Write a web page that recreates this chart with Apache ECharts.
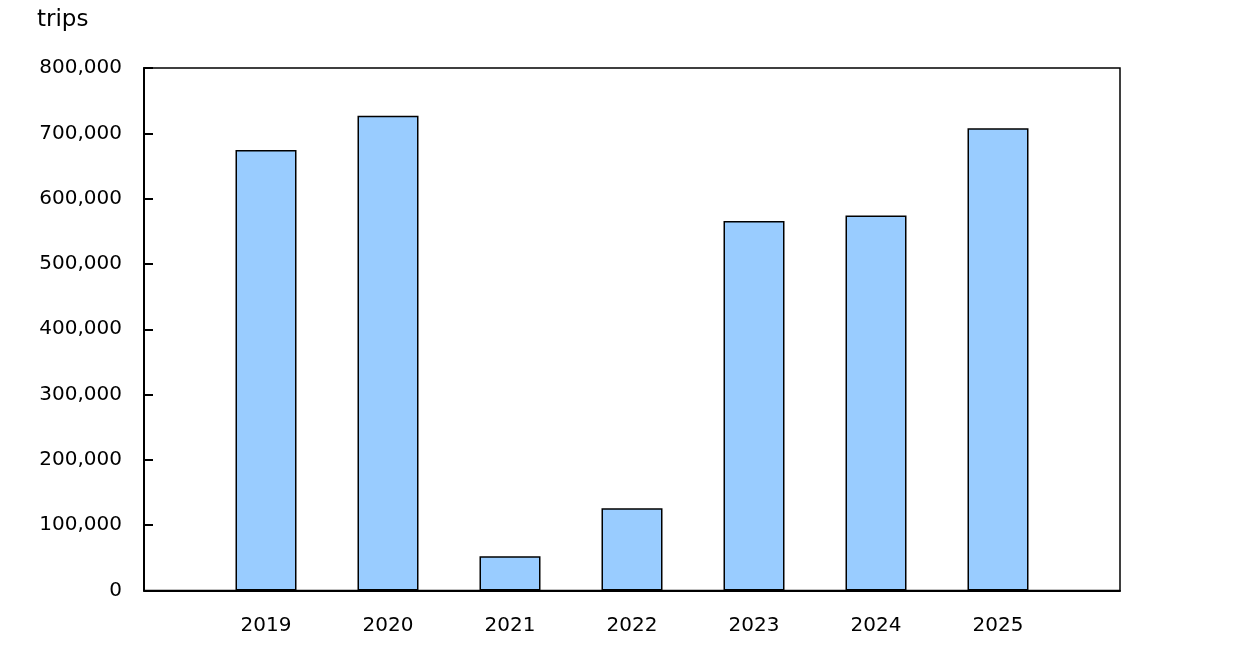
<!DOCTYPE html>
<html>
<head>
<meta charset="utf-8">
<script src="https://cdn.jsdelivr.net/npm/echarts@6/dist/echarts.min.js"></script>
<style>
  html, body { margin: 0; padding: 0; background: #fff; }
  #chart { width: 1241px; height: 650px; }
</style>
</head>
<body>
<div id="chart"></div>
<script>
// empty slot at each end keeps the bars off the frame edges
const years = ['', '2019', '2020', '2021', '2022', '2023', '2024', '2025', ''];
const trips = ['-', 674600, 727000, 52400, 125900, 565800, 574000, 707800, '-'];
const yTicks = [0, 100000, 200000, 300000, 400000, 500000, 600000, 700000, 800000];

const font = 'DejaVu Sans, Verdana, sans-serif';

let chart = echarts.init(document.getElementById('chart'));

let option = {
    animation: false,
    title: {
        text: 'trips',
        left: 32,
        top: 4,
        textStyle: { fontFamily: font, fontSize: 23, fontWeight: 'normal', color: '#000' }
    },
    grid: {
        left: 144,
        right: 121,
        top: 68,
        bottom: 59.5,
        show: true,
        borderColor: '#000',
        borderWidth: 1.5
    },
    xAxis: {
        type: 'category',
        data: years,
        boundaryGap: false,
        axisLine: { lineStyle: { color: '#000', width: 2 } },
        axisTick: { show: false },
        axisLabel: { interval: 0, margin: 25, fontFamily: font, fontSize: 20, color: '#000' }
    },
    yAxis: {
        type: 'value',
        min: yTicks[0],
        max: yTicks[yTicks.length - 1],
        interval: yTicks[1] - yTicks[0],
        splitLine: { show: false },
        axisLine: { show: true, lineStyle: { color: '#000', width: 2 } },
        axisTick: { show: true, inside: true, length: 9, lineStyle: { color: '#000', width: 2 } },
        axisLabel: {
            margin: 22,
            padding: [6, 0, 0, 0],
            fontFamily: font,
            fontSize: 20,
            color: '#000',
            formatter: v => v.toLocaleString('en-US')
        }
    },
    series: [
        {
            type: 'bar',
            data: trips,
            barWidth: 61,
            itemStyle: { color: '#99ccff', borderColor: '#000', borderWidth: 1.5 }
        }
    ]
};

chart.setOption(option);
</script>
</body>
</html>
